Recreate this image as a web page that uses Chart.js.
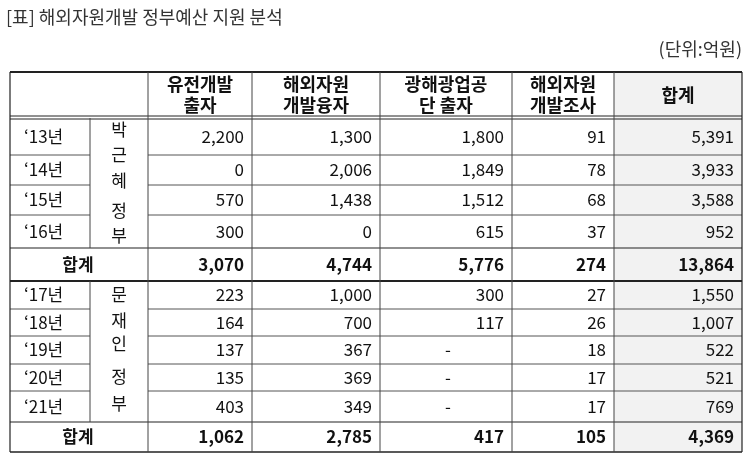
<!DOCTYPE html>
<html><head><meta charset="utf-8">
<script src="https://cdn.jsdelivr.net/npm/chart.js@4"></script>
<style>body{margin:0;background:#fff}#wrap{width:745px;height:461px}</style>
</head><body><div id="wrap"><canvas id="c" width="745" height="461"></canvas></div>
<script>
const headers = [['유전개발','출자'], ['해외자원','개발융자'], ['광해광업공','단 출자'], ['해외자원','개발조사'], ['합계']];
const years1 = ['‘13년', '‘14년', '‘15년', '‘16년'];
const park = [[2200, 1300, 1800, 91, 5391], [0, 2006, 1849, 78, 3933], [570, 1438, 1512, 68, 3588], [300, 0, 615, 37, 952]];
const parkSum = [3070, 4744, 5776, 274, 13864];
const years2 = ['‘17년', '‘18년', '‘19년', '‘20년', '‘21년'];
const moon = [[223, 1000, 300, 27, 1550], [164, 700, 117, 26, 1007], [137, 367, null, 18, 522], [135, 369, null, 17, 521], [403, 349, null, 17, 769]];
const moonSum = [1062, 2785, 417, 105, 4369];

// layout grid in picture units
const colX = [10, 90, 148, 252, 380, 512, 614, 742];
const rowY = [72, 118, 155, 185, 215, 248, 281, 309, 336, 364, 391, 422, 452];

const fmt = v => v === null ? '-' : v.toLocaleString('en-US');
const FONT = '"Noto Sans CJK KR", "Noto Sans", sans-serif';

const tablePlugin = {
    id: 'table',
    afterDraw(chart) {
        const ctx = chart.ctx, xs = chart.scales.x, ys = chart.scales.y;
        const X = v => xs.getPixelForValue(v), Y = v => ys.getPixelForValue(v);
        ctx.save();
        // gray total column
        ctx.fillStyle = '#f2f2f2';
        ctx.fillRect(X(colX[6]), Y(rowY[0]), X(colX[7]) - X(colX[6]), Y(rowY[12]) - Y(rowY[0]));

        const line = (x1, y1, x2, y2, w, c) => {
            ctx.beginPath(); ctx.lineWidth = w; ctx.strokeStyle = c || '#222';
            ctx.moveTo(X(x1), Y(y1)); ctx.lineTo(X(x2), Y(y2)); ctx.stroke();
        };
        // horizontal lines
        line(colX[0], rowY[0], colX[7], rowY[0], 2);
        line(colX[0], rowY[1] - 2, colX[7], rowY[1] - 2, 1);
        line(colX[0], rowY[1] + 1, colX[7], rowY[1] + 1, 1);
        [2, 3, 4].forEach(i => line(colX[0], rowY[i], colX[1], rowY[i], 1, '#555'));
        [2, 3, 4].forEach(i => line(colX[2], rowY[i], colX[7], rowY[i], 1, '#555'));
        line(colX[0], rowY[5], colX[7], rowY[5], 1.2);
        line(colX[0], rowY[6], colX[7], rowY[6], 2);
        [7, 8, 9, 10].forEach(i => line(colX[0], rowY[i], colX[1], rowY[i], 1, '#555'));
        [7, 8, 9, 10].forEach(i => line(colX[2], rowY[i], colX[7], rowY[i], 1, '#555'));
        line(colX[0], rowY[11], colX[7], rowY[11], 1.2);
        line(colX[0], rowY[12], colX[7], rowY[12], 1.5);
        // vertical lines
        line(colX[0], rowY[0], colX[0], rowY[12], 1.2);
        line(colX[7], rowY[0], colX[7], rowY[12], 1.2);
        for (let i = 2; i < 7; i++) line(colX[i], rowY[0], colX[i], rowY[12], 1, '#444');
        line(colX[1], rowY[1], colX[1], rowY[5], 1, '#444');
        line(colX[1], rowY[6], colX[1], rowY[11], 1, '#444');

        ctx.textBaseline = 'middle';
        ctx.fillStyle = '#111';
        // headers
        ctx.font = 'bold 18px ' + FONT;
        ctx.textAlign = 'center';
        headers.forEach((h, i) => {
            const cx = (colX[i + 2] + colX[i + 3]) / 2, cy = (rowY[0] + rowY[1]) / 2;
            h.forEach((t, k) => ctx.fillText(t, X(cx), Y(cy + (k - (h.length - 1) / 2) * 21)));
        });

        const drawBlock = (years, rows, r0) => {
            rows.forEach((r, j) => {
                const cy = Y((rowY[r0 + j] + rowY[r0 + j + 1]) / 2);
                ctx.font = '17px ' + FONT;
                ctx.textAlign = 'left';
                ctx.fillText(years[j], X(24), cy);
                r.forEach((v, i) => {
                    if (v === null) { ctx.textAlign = 'center'; ctx.fillText('-', X((colX[i + 2] + colX[i + 3]) / 2 + 2), cy); }
                    else { ctx.textAlign = 'right'; ctx.fillText(fmt(v), X(colX[i + 3] - 8), cy); }
                });
            });
        };
        const drawSum = (vals, r) => {
            const cy = Y((rowY[r] + rowY[r + 1]) / 2);
            ctx.font = 'bold 17px ' + FONT;
            ctx.textAlign = 'center';
            ctx.fillText('합계', X(78), cy);
            ctx.textAlign = 'right';
            vals.forEach((v, i) => ctx.fillText(fmt(v), X(colX[i + 3] - 8), cy));
        };
        drawBlock(years1, park, 1);
        drawSum(parkSum, 5);
        drawBlock(years2, moon, 6);
        drawSum(moonSum, 11);

        // vertical government labels
        ctx.font = '17px ' + FONT;
        ctx.textAlign = 'center';
        [['박', 130], ['근', 155], ['혜', 181], ['정', 211], ['부', 236]].forEach(([t, y]) => ctx.fillText(t, X(119), Y(y)));
        [['문', 295], ['재', 321], ['인', 344], ['정', 377], ['부', 404]].forEach(([t, y]) => ctx.fillText(t, X(119), Y(y)));

        // title and unit
        ctx.fillStyle = '#333';
        ctx.font = '18px ' + FONT;
        ctx.textAlign = 'left';
        ctx.fillText('[표] 해외자원개발 정부예산 지원 분석', X(6), Y(17));
        ctx.textAlign = 'right';
        ctx.fillText('(단위:억원)', X(742), Y(49));
        ctx.restore();
    }
};

new Chart(document.getElementById('c'), {
    type: 'scatter',
    data: { datasets: [{ data: [], pointRadius: 0 }] },
    options: {
        responsive: false,
        animation: false,
        layout: { padding: 0 },
        plugins: { legend: { display: false }, tooltip: { enabled: false } },
        scales: {
            x: { type: 'linear', min: 0, max: 745, display: false },
            y: { type: 'linear', min: 0, max: 461, reverse: true, display: false }
        }
    },
    plugins: [tablePlugin]
});
</script>
</body></html>
